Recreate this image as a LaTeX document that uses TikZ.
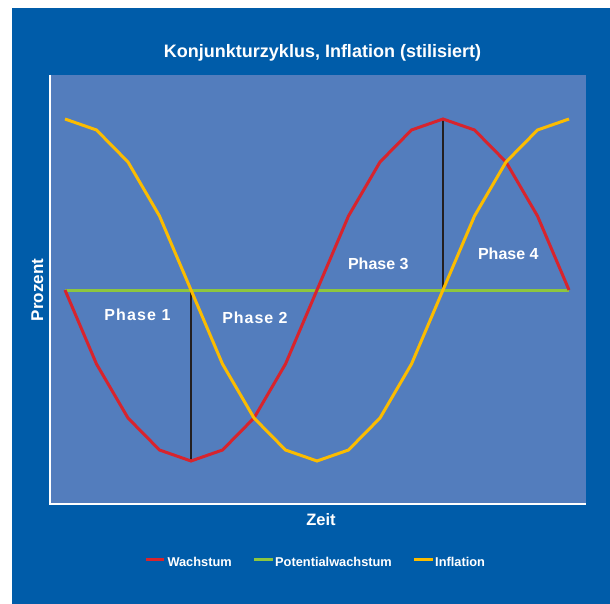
\documentclass[tikz,border=0pt]{standalone}
\usepackage{fontspec}
\setmainfont{Liberation Sans}
\usetikzlibrary{positioning}

\definecolor{outerblue}{RGB}{0,92,169}
\definecolor{plotblue}{RGB}{83,125,189}
\definecolor{wachstumred}{RGB}{215,36,45}
\definecolor{potentialgreen}{RGB}{141,198,63}
\definecolor{inflationyellow}{RGB}{251,188,0}
\definecolor{phaseblack}{RGB}{35,31,32}

\begin{document}
\begin{tikzpicture}[x=1pt, y=-1pt,
    lbl/.style={text=white, inner sep=0pt, font=\bfseries\fontsize{16}{18}\selectfont},
    leg/.style={text=white, inner sep=0pt, anchor=west, font=\bfseries\fontsize{12.8}{14}\selectfont},
    curve/.style={line width=3pt},
    legline/.style={line width=2.5pt},
  ]

  \useasboundingbox (0,0) rectangle (610,604);
  \fill[white] (0,0) rectangle (610,604);

  % background and plot area
  \fill[outerblue] (12,8) rectangle (610,604);
  \fill[plotblue] (50,75) rectangle (586,503);

  % axes
  \draw[white, line width=2pt] (50,75) -- (50,504) -- (586,504);

  % title and axis labels
  \node[lbl, anchor=base, font=\bfseries\fontsize{18}{20}\selectfont] (title) at (322.5,57.5) {Konjunkturzyklus, Inflation (stilisiert)};
  \node[lbl, font=\bfseries\fontsize{16.5}{18}\selectfont] (zeit) at (321,520) {Zeit};
  \node[lbl, rotate=90, font=\bfseries\fontsize{17}{19}\selectfont] (prozent) at (37.3,290) {Prozent};

  % potential growth
  \draw[potentialgreen, curve] (65,290) -- (569,290);

  % phase borders
  \coordinate (tief) at (191,461);
  \coordinate (hoch) at (443,119);
  \draw[phaseblack, line width=1.8pt] (tief) -- (191,290);
  \draw[phaseblack, line width=1.8pt] (hoch) -- (443,290);

  % growth
  \draw[wachstumred, curve] (65,290)
    \foreach \y [count=\i] in {364,418,450,461,450,418,364,290,216,162,130,119,130,162,216,290} { -- ({65+31.5*\i},\y) };

  % inflation
  \draw[inflationyellow, curve] (65,119)
    \foreach \y [count=\i] in {130,162,216,290,364,418,450,461,450,418,364,290,216,162,130,119} { -- ({65+31.5*\i},\y) };

  % phases
  \node[lbl, font=\bfseries\fontsize{16}{18}\selectfont\addfontfeature{LetterSpace=7}] (phase1) at (137.5,315) {Phase 1};
  \node[lbl, font=\bfseries\fontsize{16}{18}\selectfont\addfontfeature{LetterSpace=6}] (phase2) at (255,317.3) {Phase 2};
  \node[lbl] (phase3) at (378.3,263.3) {Phase 3};
  \node[lbl] (phase4) at (508.3,253.3) {Phase 4};

  % legend
  \draw[wachstumred, legline] (146,559.3) -- (164.3,559.3);
  \node[leg] (legwachstum) at (167.3,562.3) {Wachstum};
  \draw[potentialgreen, legline] (254.3,559.3) -- (272.7,559.3);
  \node[leg] (legpotential) at (275,562.3) {Potentialwachstum};
  \draw[inflationyellow, legline] (414,559.3) -- (432.7,559.3);
  \node[leg] (leginflation) at (435,562.3) {Inflation};

\end{tikzpicture}
\end{document}
